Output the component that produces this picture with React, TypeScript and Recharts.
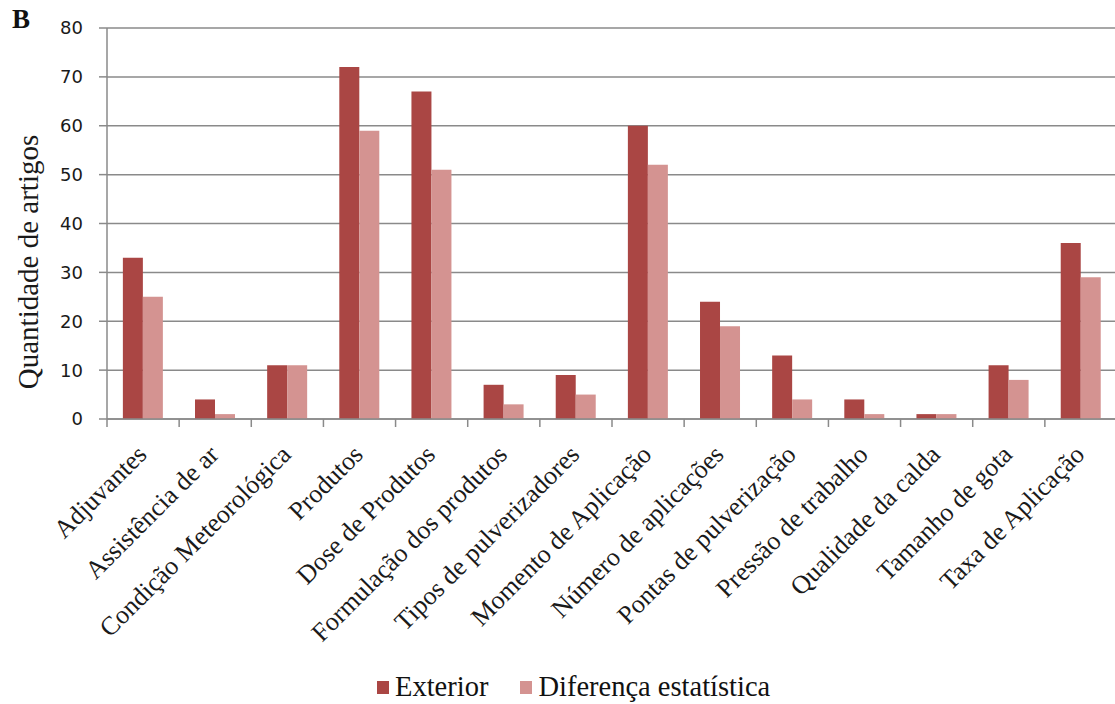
import React from "react";
import {
  BarChart,
  Bar,
  XAxis,
  YAxis,
  CartesianGrid,
  Legend,
  Label,
} from "recharts";

// Categories studied and number of articles per group
const categories = [
  "Adjuvantes",
  "Assistência de ar",
  "Condição Meteorológica",
  "Produtos",
  "Dose de Produtos",
  "Formulação dos produtos",
  "Tipos de pulverizadores",
  "Momento de Aplicação",
  "Número de aplicações",
  "Pontas de pulverização",
  "Pressão de trabalho",
  "Qualidade da calda",
  "Tamanho de gota",
  "Taxa de Aplicação",
];
const exterior = [33, 4, 11, 72, 67, 7, 9, 60, 24, 13, 4, 1, 11, 36];
const diferenca = [25, 1, 11, 59, 51, 3, 5, 52, 19, 4, 1, 1, 8, 29];
const yTicks = [0, 10, 20, 30, 40, 50, 60, 70, 80];

const seriesNames = ["Exterior", "Diferença estatística"];
const colors = ["#AA4644", "#D49391"];

const data = categories.map((c, i) => ({
  name: c,
  exterior: exterior[i],
  diferenca: diferenca[i],
}));

const CHART_W = 1120;
const CHART_H = 704;
const MARGIN = { top: 28, right: 3, bottom: 0, left: 0 };
const Y_AXIS_W = 107;
const X_AXIS_H = 255;
const PLOT_W = CHART_W - MARGIN.left - MARGIN.right - Y_AXIS_W;
const BAND = PLOT_W / categories.length;

const AXIS_COLOR = "#8a8a8a";
const SERIF = '"Liberation Serif", "Times New Roman", serif';
const SANS = '"DejaVu Sans", Verdana, sans-serif';

// Category label rotated 45°, plus a tick mark at the left edge of each band
const CategoryTick = (props: any) => {
  const { x, y, payload, index } = props;
  const tx = x + 5;
  const ty = y + 37;
  const isLast = index === categories.length - 1;
  return (
    <g>
      <line x1={x - BAND / 2} y1={y} x2={x - BAND / 2} y2={y + 8} stroke={AXIS_COLOR} strokeWidth={1.5} />
      {isLast ? (
        <line x1={x + BAND / 2} y1={y} x2={x + BAND / 2} y2={y + 8} stroke={AXIS_COLOR} strokeWidth={1.5} />
      ) : null}
      <text
        x={tx}
        y={ty}
        textAnchor="end"
        transform={`rotate(-45 ${tx} ${ty})`}
        fontFamily={SERIF}
        fontSize={26}
        fill="#1a1a1a"
      >
        {payload.value}
      </text>
    </g>
  );
};

const LegendContent = () => (
  <div style={{ display: "flex", alignItems: "center", fontFamily: SERIF, fontSize: 28.5, color: "#111", height: 30 }}>
    {seriesNames.map((n, i) => (
      <div key={n} style={{ display: "flex", alignItems: "center", marginRight: i === 0 ? 32 : 0 }}>
        <span style={{ display: "inline-block", width: 12, height: 13, background: colors[i], marginRight: 6 }} />
        <span style={{ lineHeight: "30px", whiteSpace: "nowrap" }}>{n}</span>
      </div>
    ))}
  </div>
);

export default function App() {
  return (
    <div style={{ position: "fixed", left: 0, top: 0, width: 1115, height: 704, overflow: "hidden", background: "#fff" }}>
      <div
        style={{
          position: "absolute",
          left: 12,
          top: 6,
          fontFamily: SERIF,
          fontWeight: "bold",
          fontSize: 27,
          color: "#111",
          lineHeight: "27px",
        }}
      >
        B
      </div>
      <BarChart
        width={CHART_W}
        height={CHART_H}
        data={data}
        margin={MARGIN}
        barCategoryGap="22%"
        barGap={0}
      >
        <CartesianGrid vertical={false} stroke={AXIS_COLOR} strokeWidth={1.5} />
        <XAxis
          dataKey="name"
          interval={0}
          height={X_AXIS_H}
          tickSize={0}
          tickMargin={0}
          tickLine={false}
          axisLine={{ stroke: AXIS_COLOR, strokeWidth: 1.5 }}
          tick={<CategoryTick />}
        />
        <YAxis
          width={Y_AXIS_W}
          domain={[0, 80]}
          ticks={yTicks}
          interval={0}
          tickSize={8}
          tickMargin={16}
          tickLine={{ stroke: AXIS_COLOR, strokeWidth: 1.5 }}
          axisLine={{ stroke: AXIS_COLOR, strokeWidth: 1.5 }}
          tick={{ fontFamily: SANS, fontSize: 18, fill: "#1a1a1a" }}
        >
          <Label
            content={() => (
              <text
                x={38}
                y={262}
                textAnchor="middle"
                transform="rotate(-90 38 262)"
                fontFamily={SERIF}
                fontSize={29}
                fill="#1a1a1a"
              >
                Quantidade de artigos
              </text>
            )}
          />
        </YAxis>
        <Legend
          content={<LegendContent />}
          wrapperStyle={{ position: "absolute", left: 377, top: 672, width: "auto", bottom: "auto" }}
        />
        <Bar dataKey="exterior" name={seriesNames[0]} fill={colors[0]} isAnimationActive={false} />
        <Bar dataKey="diferenca" name={seriesNames[1]} fill={colors[1]} isAnimationActive={false} />
      </BarChart>
    </div>
  );
}
